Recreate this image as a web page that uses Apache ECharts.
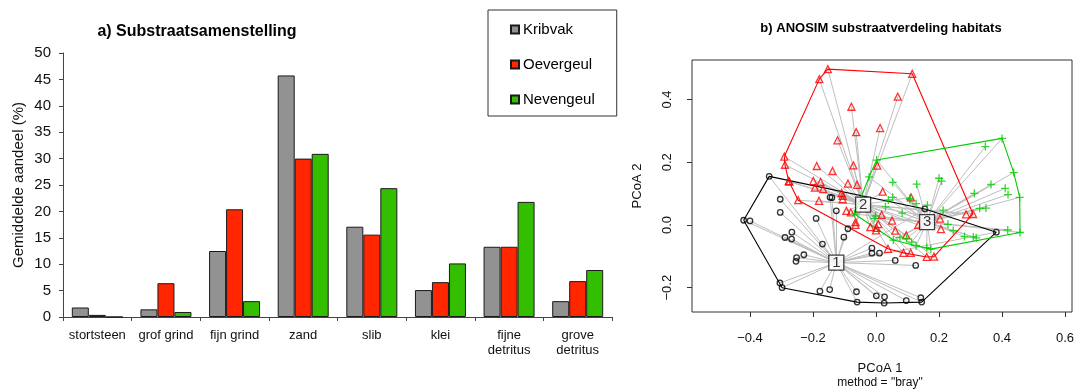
<!DOCTYPE html>
<html>
<head>
<meta charset="utf-8">
<script src="https://cdn.jsdelivr.net/npm/echarts@6/dist/echarts.min.js"></script>
<style>
  html, body { margin: 0; padding: 0; background: #fff; }
  #chart { width: 1078px; height: 390px; }
</style>
</head>
<body>
<div id="chart"></div>
<script>
// ---- a) mean substrate composition per habitat (%) ----
const categories = ['stortsteen', 'grof grind', 'fijn grind', 'zand', 'slib', 'klei', 'fijne\ndetritus', 'grove\ndetritus'];
const kribvak   = [1.8, 1.45, 12.5, 45.75, 17.1, 5.1, 13.3, 3.0];
const oevergeul = [0.4, 6.4, 20.4, 30.0, 15.6, 6.6, 13.3, 6.8];
const nevengeul = [0.0, 0.95, 3.0, 30.9, 24.4, 10.15, 21.8, 8.9];
const barTicksY = [0, 5, 10, 15, 20, 25, 30, 35, 40, 45, 50];

// ---- b) PCoA ordination (Bray-Curtis), sample scores per habitat ----
const kribvakPts = [
  [-0.339, 0.155], [-0.420, 0.015], [-0.400, 0.013], [-0.304, 0.082], [-0.304, 0.040],
  [-0.146, 0.088], [-0.140, 0.087], [-0.126, 0.045], [-0.190, 0.021], [-0.089, -0.012],
  [-0.102, -0.039], [-0.267, -0.023], [-0.268, -0.045], [-0.289, -0.040], [-0.170, -0.061],
  [-0.229, -0.095], [-0.252, -0.104], [-0.254, -0.116], [-0.305, -0.185], [-0.298, -0.200],
  [-0.178, -0.211], [-0.147, -0.206], [-0.062, -0.213], [-0.060, -0.246], [0.001, -0.226],
  [0.027, -0.229], [0.026, -0.249], [0.096, -0.241], [0.142, -0.232], [0.145, -0.246],
  [-0.013, -0.074], [-0.013, -0.090], [0.011, -0.090], [0.061, -0.113], [0.126, -0.129],
  [0.155, 0.051], [0.382, -0.023]
];
const oevergeulPts = [
  [-0.153, 0.497], [-0.180, 0.465], [0.115, 0.482], [0.069, 0.409], [-0.078, 0.377],
  [0.013, 0.309], [-0.063, 0.296], [-0.122, 0.270], [-0.291, 0.218], [-0.289, 0.192],
  [-0.188, 0.188], [-0.138, 0.172], [-0.072, 0.190], [0.004, 0.189], [-0.277, 0.140],
  [-0.275, 0.138], [-0.199, 0.140], [-0.176, 0.137], [-0.194, 0.119], [-0.168, 0.114],
  [-0.089, 0.132], [-0.060, 0.128], [-0.109, 0.102], [-0.106, 0.093], [-0.106, 0.082],
  [-0.247, 0.079], [-0.181, 0.077], [-0.094, 0.045], [-0.080, 0.040], [-0.065, 0.009],
  [-0.065, 0.000], [-0.018, -0.007], [0.000, -0.017], [0.002, -0.009], [0.007, 0.003],
  [0.018, 0.032], [0.021, 0.106], [0.051, 0.014], [0.061, -0.018], [0.096, -0.033],
  [0.111, 0.088], [0.134, 0.000], [0.203, 0.020], [0.206, -0.013], [0.286, 0.034],
  [0.308, 0.035], [0.038, -0.076], [0.087, -0.089], [0.110, -0.089], [0.161, -0.102],
  [0.184, -0.101]
];
const nevengeulPts = [
  [0.002, 0.207], [-0.022, 0.153], [0.053, 0.136], [0.129, 0.130], [0.200, 0.149],
  [0.208, 0.140], [0.400, 0.276], [0.347, 0.250], [0.437, 0.167], [0.365, 0.129],
  [0.410, 0.117], [0.419, 0.097], [0.456, 0.088], [0.312, 0.101], [0.329, 0.053],
  [0.349, 0.054], [0.213, 0.047], [0.163, 0.063], [0.127, 0.068], [0.107, 0.081],
  [0.053, 0.088], [0.039, 0.080], [0.030, 0.058], [0.108, 0.085], [0.083, 0.038],
  [-0.001, 0.029], [-0.006, 0.021], [-0.068, 0.035], [0.228, 0.002], [0.245, -0.018],
  [0.281, -0.037], [0.309, -0.038], [0.318, -0.041], [0.418, -0.016], [0.457, -0.024],
  [0.055, -0.048], [0.076, -0.040], [0.097, -0.043], [0.113, -0.055], [0.127, -0.066],
  [0.161, -0.072], [0.174, -0.077]
];
// group centroids, labelled 1..3
const centroids = [[-0.126, -0.120, '1'], [-0.041, 0.065, '2'], [0.162, 0.009, '3']];
const pcoaTicksX = [-0.4, -0.2, 0.0, 0.2, 0.4, 0.6];
const pcoaTicksY = [-0.2, 0.0, 0.2, 0.4];

// colours
const GREY = '#929292', RED = '#ff2600', GREEN = '#33bf00';
const PT_BLACK = '#000000', PT_RED = '#ff0000', PT_GREEN = '#00cc00';

// convex hull (monotone chain), returned closed
function hull(points) {
  const p = points.slice().sort((a, b) => a[0] - b[0] || a[1] - b[1]);
  const cross = (o, a, b) => (a[0] - o[0]) * (b[1] - o[1]) - (a[1] - o[1]) * (b[0] - o[0]);
  const lower = [], upper = [];
  for (const q of p) {
    while (lower.length >= 2 && cross(lower[lower.length - 2], lower[lower.length - 1], q) <= 0) lower.pop();
    lower.push(q);
  }
  for (let i = p.length - 1; i >= 0; i--) {
    const q = p[i];
    while (upper.length >= 2 && cross(upper[upper.length - 2], upper[upper.length - 1], q) <= 0) upper.pop();
    upper.push(q);
  }
  upper.pop(); lower.pop();
  const h = lower.concat(upper);
  h.push(h[0]);
  return h;
}

const groups = [
  { pts: kribvakPts, c: centroids[0], color: PT_BLACK, symbol: 'circle', size: 5.5 },
  { pts: oevergeulPts, c: centroids[1], color: PT_RED, symbol: 'triangle', size: 7 },
  { pts: nevengeulPts, c: centroids[2], color: PT_GREEN,
    symbol: 'path://M4.2,0H5.8V4.2H10V5.8H5.8V10H4.2V5.8H0V4.2H4.2Z', size: 8 }
];

const FONT = 'Liberation Sans, Arial, Helvetica, sans-serif';
const fmtPcoa = v => (Math.abs(v) < 1e-9 ? 0 : v).toFixed(1).replace('-', '\u2212');

const barBase = {
  type: 'bar', xAxisIndex: 0, yAxisIndex: 0, barWidth: 17, barGap: '0%',
  itemStyle: { borderColor: '#1a1a1a', borderWidth: 1 }
};

const series = [
  Object.assign({}, barBase, { name: 'Kribvak', data: kribvak, itemStyle: Object.assign({ color: GREY }, barBase.itemStyle) }),
  Object.assign({}, barBase, { name: 'Oevergeul', data: oevergeul, itemStyle: Object.assign({ color: RED }, barBase.itemStyle) }),
  Object.assign({}, barBase, { name: 'Nevengeul', data: nevengeul, itemStyle: Object.assign({ color: GREEN }, barBase.itemStyle) })
];

// spokes from every sample to its group centroid
groups.forEach((g, i) => {
  series.push({
    type: 'lines', name: 'spokes' + (i + 1), coordinateSystem: 'cartesian2d',
    xAxisIndex: 1, yAxisIndex: 1, silent: true, z: 1,
    lineStyle: { color: '#bebebe', width: 1, opacity: 1 },
    data: g.pts.map(p => ({ coords: [p, [g.c[0], g.c[1]]] }))
  });
});
// hulls
groups.forEach((g, i) => {
  series.push({
    type: 'line', name: 'hull' + (i + 1), xAxisIndex: 1, yAxisIndex: 1, z: 2,
    symbol: 'none', silent: true, animation: false,
    lineStyle: { color: g.color, width: 1.1 },
    data: hull(g.pts)
  });
});
// samples
groups.forEach((g, i) => {
  const isCross = g.symbol.startsWith('path');
  series.push({
    type: 'scatter', name: 'groep' + (i + 1), xAxisIndex: 1, yAxisIndex: 1, z: 3,
    symbol: g.symbol, symbolSize: g.size, silent: true,
    itemStyle: isCross ? { color: g.color } : { color: 'rgba(255,255,255,0)', borderColor: g.color, borderWidth: 1.3 },
    data: g.pts
  });
});
// centroid labels
series.push({
  type: 'scatter', name: 'centroids', xAxisIndex: 1, yAxisIndex: 1, z: 5,
  symbol: 'rect', symbolSize: 15, silent: true,
  itemStyle: { color: '#ffffff', borderColor: '#111', borderWidth: 1.3 },
  label: { show: true, position: 'inside', formatter: p => p.value[2], color: '#000', fontSize: 15, fontFamily: FONT },
  data: centroids
});

const option = {
  animation: false,
  backgroundColor: '#ffffff',
  textStyle: { fontFamily: FONT },
  legend: {
    data: ['Kribvak', 'Oevergeul', 'Nevengeul'],
    orient: 'vertical', left: 488, top: 10,
    padding: [12, 22, 9, 22], itemGap: 20,
    itemWidth: 8, itemHeight: 8, icon: 'rect',
    borderColor: '#333', borderWidth: 1,
    textStyle: { fontSize: 15, color: '#000', fontFamily: FONT, padding: [0, 0, 0, -1] },
    selectedMode: false
  },
  grid: [
    { left: 63, right: 466, top: 53, bottom: 73 },
    { left: 692, right: 6, top: 60, bottom: 78, show: true, borderColor: '#333', borderWidth: 1, backgroundColor: 'transparent' }
  ],
  xAxis: [
    {
      type: 'category', gridIndex: 0, data: categories,
      axisLine: { lineStyle: { color: '#444', width: 1 } },
      axisTick: { show: true, alignWithLabel: false, length: 4, lineStyle: { color: '#444' } },
      axisLabel: { fontSize: 13, color: '#111', margin: 11, lineHeight: 15, interval: 0, fontFamily: FONT }
    },
    {
      type: 'value', gridIndex: 1, min: -0.584, max: 0.622,
      axisLine: { show: false, onZero: false },
      axisTick: { show: true, length: 5, customValues: pcoaTicksX, lineStyle: { color: '#333' } },
      axisLabel: { customValues: pcoaTicksX, formatter: fmtPcoa, fontSize: 13, color: '#111', margin: 20, fontFamily: FONT },
      splitLine: { show: false }
    }
  ],
  yAxis: [
    {
      type: 'value', gridIndex: 0, min: 0, max: 50, interval: 5,
      name: 'Gemiddelde aandeel (%)', nameLocation: 'middle', nameGap: 37, nameRotate: 90,
      nameMoveOverlap: false,
      nameTextStyle: { fontSize: 15, color: '#111', fontFamily: FONT },
      axisLine: { show: true, lineStyle: { color: '#444', width: 1 } },
      axisTick: { show: true, length: 4, lineStyle: { color: '#444' } },
      axisLabel: { fontSize: 15, color: '#111', margin: 12, fontFamily: FONT },
      splitLine: { show: false }
    },
    {
      type: 'value', gridIndex: 1, min: -0.2775, max: 0.526,
      axisLine: { show: false, onZero: false },
      axisTick: { show: true, length: 5, customValues: pcoaTicksY, lineStyle: { color: '#333' } },
      axisLabel: { customValues: pcoaTicksY, formatter: fmtPcoa, rotate: 90, fontSize: 13, color: '#111', margin: 18, fontFamily: FONT },
      splitLine: { show: false }
    }
  ],
  graphic: [
    { type: 'text', x: 197, y: 32, style: { text: 'a) Substraatsamenstelling', font: 'bold 16px ' + FONT, fill: '#000', textAlign: 'center', textVerticalAlign: 'middle', align: 'center', verticalAlign: 'middle' } },
    { type: 'text', x: 881, y: 28, style: { text: 'b) ANOSIM substraatverdeling habitats', font: 'bold 13px ' + FONT, fill: '#000', textAlign: 'center', textVerticalAlign: 'middle', align: 'center', verticalAlign: 'middle' } },
    { type: 'text', x: 880, y: 368, style: { text: 'PCoA 1', font: '13px ' + FONT, fill: '#111', textAlign: 'center', textVerticalAlign: 'middle', align: 'center', verticalAlign: 'middle' } },
    { type: 'text', x: 880, y: 383, style: { text: 'method = "bray"', font: '12px ' + FONT, fill: '#111', textAlign: 'center', textVerticalAlign: 'middle', align: 'center', verticalAlign: 'middle' } },
    { type: 'text', x: 637, y: 186, rotation: Math.PI / 2, style: { text: 'PCoA 2', font: '13px ' + FONT, fill: '#111', textAlign: 'center', textVerticalAlign: 'middle', align: 'center', verticalAlign: 'middle' } }
  ],
  series: series
};

const chart = echarts.init(document.getElementById('chart'), null, { renderer: 'canvas' });
chart.setOption(option);
</script>
</body>
</html>
